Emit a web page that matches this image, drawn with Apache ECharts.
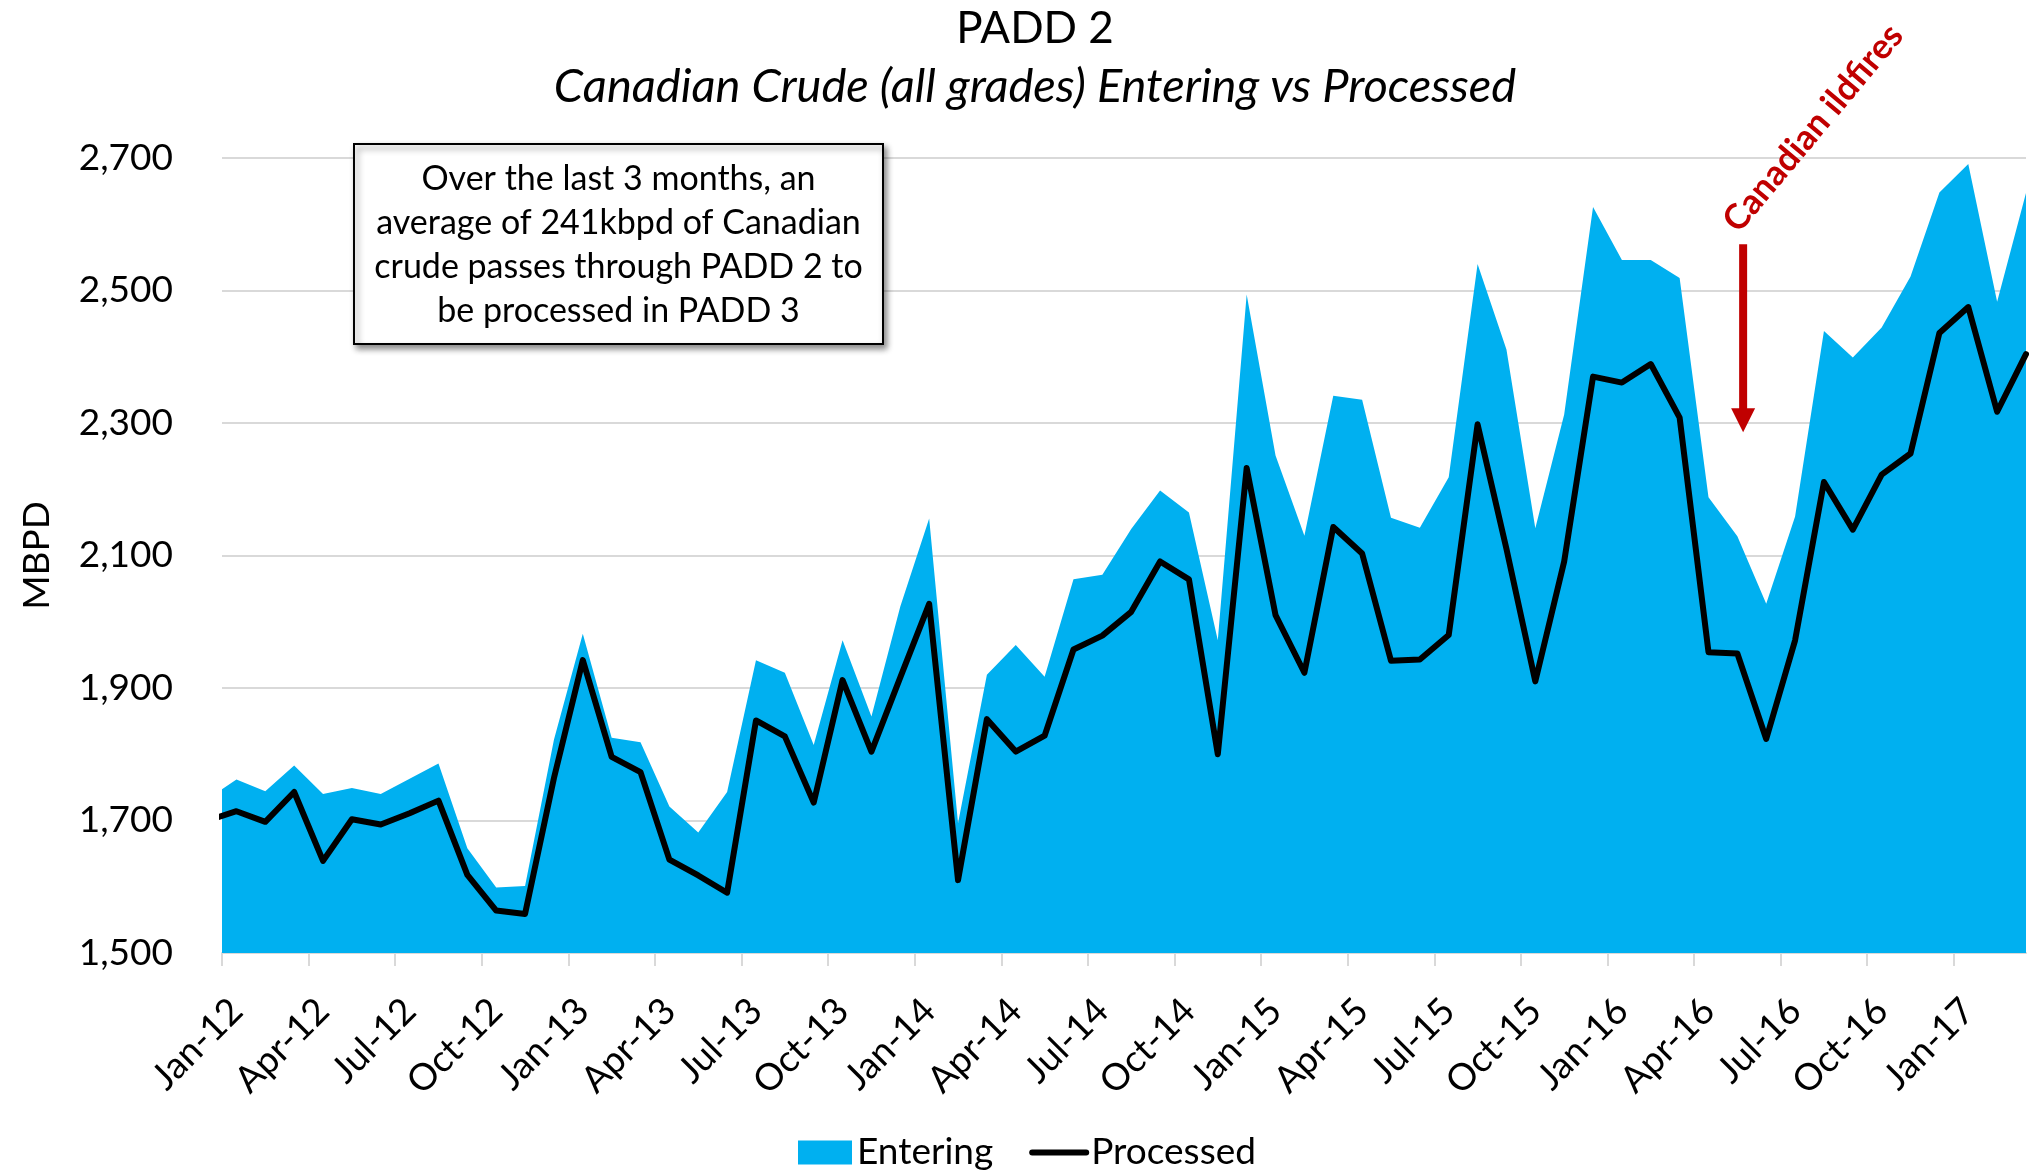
<!DOCTYPE html>
<html>
<head>
<meta charset="utf-8">
<script src="https://cdn.jsdelivr.net/npm/echarts@6/dist/echarts.min.js"></script>
<style>html,body{margin:0;padding:0;background:#fff}#c{width:2036px;height:1173px}</style>
</head>
<body>
<div id="c"></div>
<script>
// Months (mid-month observations); the first one is partly clipped at the left edge
const months = ['Dec-11','Jan-12','Feb-12','Mar-12','Apr-12','May-12','Jun-12','Jul-12','Aug-12','Sep-12','Oct-12','Nov-12','Dec-12',
  'Jan-13','Feb-13','Mar-13','Apr-13','May-13','Jun-13','Jul-13','Aug-13','Sep-13','Oct-13','Nov-13','Dec-13',
  'Jan-14','Feb-14','Mar-14','Apr-14','May-14','Jun-14','Jul-14','Aug-14','Sep-14','Oct-14','Nov-14','Dec-14',
  'Jan-15','Feb-15','Mar-15','Apr-15','May-15','Jun-15','Jul-15','Aug-15','Sep-15','Oct-15','Nov-15','Dec-15',
  'Jan-16','Feb-16','Mar-16','Apr-16','May-16','Jun-16','Jul-16','Aug-16','Sep-16','Oct-16','Nov-16','Dec-16',
  'Jan-17','Feb-17','Mar-17'];

const entering = [1732,1762,1744,1783,1740,1749,1740,1763,1786,1658,1599,1601,1822,
  1982,1825,1818,1721,1682,1743,1942,1923,1814,1972,1857,2023,
  2156,1696,1920,1965,1917,2064,2071,2140,2198,2165,1972,2494,
  2251,2130,2341,2335,2157,2142,2218,2540,2411,2141,2313,2626,
  2546,2546,2519,2188,2129,2027,2159,2439,2399,2444,2521,2648,
  2691,2483,2647];

const processed = [1700,1714,1698,1743,1639,1702,1694,1711,1730,1618,1564,1559,1764,
  1942,1796,1773,1641,1617,1591,1851,1827,1727,1912,1804,1916,
  2027,1610,1853,1804,1828,1958,1979,2015,2091,2064,1800,2232,
  2010,1923,2143,2103,1941,1943,1980,2298,2110,1910,2091,2370,
  2361,2389,2308,1954,1952,1823,1972,2211,2139,2222,2254,2436,
  2475,2317,2404];

const tickLabels = ['Jan-12','Apr-12','Jul-12','Oct-12','Jan-13','Apr-13','Jul-13','Oct-13','Jan-14','Apr-14','Jul-14',
  'Oct-14','Jan-15','Apr-15','Jul-15','Oct-15','Jan-16','Apr-16','Jul-16','Oct-16','Jan-17'];

const yTicks = [1500,1700,1900,2100,2300,2500,2700];

const boxLines = ['Over the last 3 months, an','average of 241kbpd of Canadian','crude passes through PADD 2 to','be processed in PADD 3'];
const eventLabel = 'Canadian ildfires';
const eventMonth = 'May-16';
const eventRange = [2570, 2286];

// x position: months since 1 Jan 2012, observation at mid-month
const monthX = i => (i - 1) + 0.5;
const tickX = tickLabels.map((_, j) => j * 3);
const labelX = tickLabels.map((_, j) => j * 3 + 0.5);
const lastX = monthX(months.length - 1);

const FONT = 'Lato';
const chart = echarts.init(document.getElementById('c'), null, {renderer: 'canvas'});

const option = {
  animation: false,
  backgroundColor: '#ffffff',
  title: {
    text: 'PADD 2',
    subtext: 'Canadian Crude (all grades) Entering vs Processed',
    left: 1030, top: 2, textAlign: 'center', itemGap: 12,
    textStyle: {fontFamily: FONT, fontSize: 44, fontWeight: 'normal', color: '#000'},
    subtextStyle: {fontFamily: FONT, fontSize: 47, fontStyle: 'italic', color: '#000'}
  },
  legend: {
    left: 793, top: 1129,
    itemWidth: 54, itemHeight: 24, itemGap: 36,
    textStyle: {fontFamily: FONT, fontSize: 37, color: '#000'},
    data: [
      {name: 'Entering', icon: 'rect'},
      {name: 'Processed', itemStyle: {opacity: 0}, lineStyle: {width: 6, color: '#000', cap: 'round'}}
    ]
  },
  grid: {left: 222, right: 10, top: 158, bottom: 220, containLabel: false},
  xAxis: {
    type: 'value', min: 0, max: lastX,
    axisLine: {show: true, lineStyle: {color: '#D9D9D9', width: 2}},
    axisTick: {show: true, customValues: tickX, length: 13, lineStyle: {color: '#D9D9D9', width: 2}},
    axisLabel: {
      customValues: labelX, rotate: 45, margin: 52,
      fontFamily: FONT, fontSize: 37, color: '#000',
      formatter: v => tickLabels[Math.round((v - 0.5) / 3)]
    },
    splitLine: {show: false}
  },
  yAxis: {
    type: 'value', min: yTicks[0], max: yTicks[yTicks.length - 1], interval: yTicks[1] - yTicks[0],
    name: 'MBPD', nameLocation: 'middle', nameGap: 166, nameRotate: 90,
    nameTextStyle: {fontFamily: FONT, fontSize: 37, color: '#000'},
    axisLine: {show: false}, axisTick: {show: false},
    axisLabel: {margin: 49, fontFamily: FONT, fontSize: 37, color: '#000',
      formatter: v => v.toLocaleString('en-US')},
    splitLine: {show: true, lineStyle: {color: '#D9D9D9', width: 2}}
  },
  series: [
    {
      name: 'Entering', type: 'line', symbol: 'none', clip: true,
      data: entering.map((v, i) => [monthX(i), v]),
      lineStyle: {width: 0, color: '#00B0F0'},
      itemStyle: {color: '#00B0F0'},
      areaStyle: {color: '#00B0F0', opacity: 1, origin: 'start'},
      z: 2
    },
    {
      name: 'Processed', type: 'line', symbol: 'none', clip: true,
      data: processed.map((v, i) => [monthX(i), v]),
      lineStyle: {width: 6, color: '#000', join: 'round', cap: 'round'},
      itemStyle: {color: '#000'},
      z: 3
    }
  ]
};
chart.setOption(option);

// Annotations positioned from the chart's own scales
const ex = monthX(months.indexOf(eventMonth)) + 0.2;
const pTop = chart.convertToPixel({gridIndex: 0}, [ex, eventRange[0]]);
const pTip = chart.convertToPixel({gridIndex: 0}, [ex, eventRange[1]]);
const red = '#C00000';
const headH = 24, headW = 24, shaftW = 8;

chart.setOption({
  graphic: [
    {
      type: 'group', left: 353, top: 143, z: 10,
      children: [
        {type: 'rect', shape: {x: 0, y: 0, width: 529, height: 200},
          style: {fill: '#fff', stroke: '#000', lineWidth: 2,
            shadowBlur: 6, shadowOffsetX: 3, shadowOffsetY: 4, shadowColor: 'rgba(0,0,0,0.45)'}},
        {type: 'text', x: 264.5, y: 101,
          style: {text: boxLines.join('\n'), fontFamily: FONT, fontSize: 34, lineHeight: 44,
            fill: '#000', align: 'center', verticalAlign: 'middle'}}
      ]
    },
    {type: 'rect', z: 10, shape: {x: pTop[0] - shaftW / 2, y: pTop[1], width: shaftW, height: pTip[1] - pTop[1] - headH + 2},
      style: {fill: red}},
    {type: 'polygon', z: 10, shape: {points: [[pTip[0] - headW / 2, pTip[1] - headH], [pTip[0] + headW / 2, pTip[1] - headH], [pTip[0], pTip[1]]]},
      style: {fill: red}},
    {type: 'text', z: 10, x: pTop[0] + 70, y: pTop[1] - 116, rotation: 50 * Math.PI / 180,
      style: {text: eventLabel, fontFamily: FONT, fontSize: 35, fontWeight: 'bold', fill: red,
        align: 'center', verticalAlign: 'middle'}}
  ]
});
</script>
</body>
</html>
